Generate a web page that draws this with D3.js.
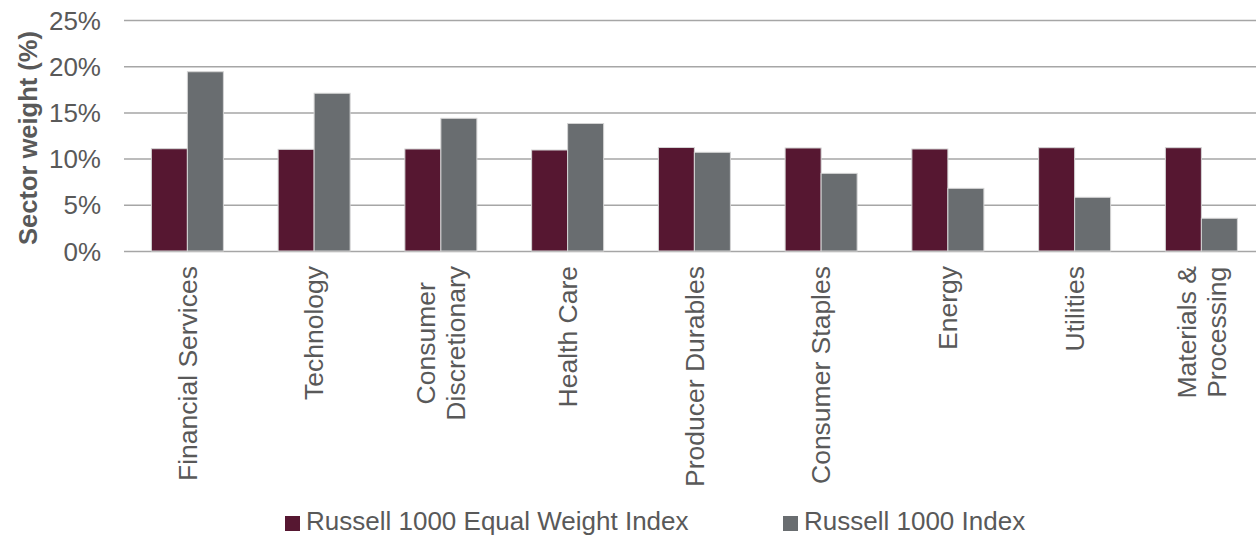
<!DOCTYPE html>
<meta charset="utf-8">
<style>
body { margin: 0; background: #fff; }
text { font-family: "Liberation Sans", Arial, sans-serif; fill: #595959; }
.grid line { stroke: #a6a6a6; stroke-width: 1.5px; }
.grid .domain { display: none; }
</style>
<script src="https://d3js.org/d3.v7.min.js"></script>
<body>
<div id="chart"></div>
</body>
<script>

// sectors (label lines as drawn under the axis)
var sectors = [
  ["Financial Services"],
  ["Technology"],
  ["Consumer", "Discretionary"],
  ["Health Care"],
  ["Producer Durables"],
  ["Consumer Staples"],
  ["Energy"],
  ["Utilities"],
  ["Materials &", "Processing"]
];
var seriesNames = ["Russell 1000 Equal Weight Index", "Russell 1000 Index"];
var equalWeight = [11.07, 11.0, 11.04, 10.93, 11.2, 11.15, 11.04, 11.18, 11.18];
var capWeight   = [19.4, 17.07, 14.36, 13.8, 10.68, 8.4, 6.78, 5.81, 3.54];
var yTicks = [0, 5, 10, 15, 20, 25];
var colors = ["#561731", "#696d70"];

var W = 1256, H = 535;
var plotLeft = 124, plotRight = 1264.75, plotTop = 20, plotBottom = 251;

var svg = d3.select("#chart").append("svg")
    .attr("width", W)
    .attr("height", H);

var names = sectors.map(function(d) { return d.join(" "); });

var x0 = d3.scaleBand().domain(names).range([plotLeft, plotRight])
    .paddingInner(0.432).paddingOuter(0.216);
var x1 = d3.scaleBand().domain(seriesNames).range([0, x0.bandwidth()]);
var y = d3.scaleLinear().domain([0, 25]).range([plotBottom, plotTop]);

// gridlines + y tick labels
var gy = svg.append("g")
    .attr("class", "grid")
    .attr("transform", "translate(" + plotLeft + ",0)")
    .call(d3.axisLeft(y)
      .tickValues(yTicks)
      .tickSize(-(plotRight - plotLeft))
      .tickPadding(23)
      .tickFormat(function(d) { return d + "%"; }));
gy.selectAll("text")
    .style("font-size", "26px")
    .attr("fill", "#595959")
    .attr("dy", "0.35em");

// bars
var rows = names.map(function(n, i) {
  return { name: n, vals: [equalWeight[i], capWeight[i]] };
});

var groups = svg.append("g").selectAll("g")
    .data(rows)
  .enter().append("g")
    .attr("transform", function(d) { return "translate(" + x0(d.name) + ",0)"; });

groups.selectAll("rect")
    .data(function(d) { return d.vals.map(function(v, j) { return { s: seriesNames[j], v: v, j: j }; }); })
  .enter().append("rect")
    .attr("x", function(d) { return x1(d.s); })
    .attr("width", x1.bandwidth())
    .attr("y", function(d) { return y(d.v); })
    .attr("height", function(d) { return y(0) - y(d.v); })
    .attr("fill", function(d) { return colors[d.j]; })
    .attr("stroke", "#d4d4d4")
    .attr("stroke-width", 1);

// x labels, rotated, block top-aligned below the axis and lines centred
var labelTop = 266, lineGap = 30;
sectors.forEach(function(lines, i) {
  var cx = x0(names[i]) + x0.bandwidth() / 2;
  var g = svg.append("g");
  var texts = lines.map(function(t) {
    return g.append("text").style("font-size", "26.5px").text(t);
  });
  var maxLen = d3.max(texts, function(t) { return t.node().getComputedTextLength(); });
  texts.forEach(function(t, k) {
    var off = (k - (lines.length - 1) / 2) * lineGap;
    t.attr("text-anchor", "middle")
     .attr("transform", "translate(" + (cx + off) + "," + (labelTop + maxLen / 2) + ") rotate(-90)")
     .attr("dy", "0.35em");
  });
});

// y title
svg.append("text")
    .attr("transform", "translate(28,138) rotate(-90)")
    .attr("text-anchor", "middle")
    .attr("dy", "0.35em")
    .style("font-size", "25.5px")
    .style("font-weight", "bold")
    .text("Sector weight (%)");

// legend
var legendX = [285, 783];
var legend = svg.append("g").selectAll("g")
    .data(seriesNames)
  .enter().append("g")
    .attr("transform", function(d, i) { return "translate(" + legendX[i] + ",516)"; });
legend.append("rect")
    .attr("width", 15)
    .attr("height", 15)
    .attr("fill", function(d, i) { return colors[i]; });
legend.append("text")
    .attr("x", 21)
    .attr("y", 14)
    .style("font-size", "26px")
    .text(function(d) { return d; });

</script>
